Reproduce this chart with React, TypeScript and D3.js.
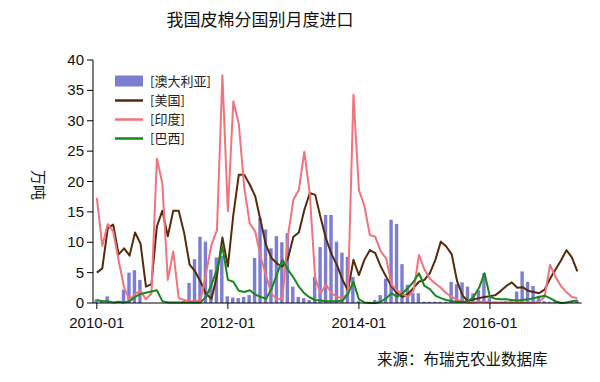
import React from 'react';
import * as d3 from 'd3';

// 月度进口量（万吨），2010-01 起
const australia = [
  0.6, 0.4, 1.1, 0, 0, 2.2, 5, 5.4, 3.8, 0, 0, 0,
  0, 0, 0, 0, 0.3, 3.3, 7.2, 10.9, 10.1, 5.5, 7.5, 7.8,
  1.1, 0.9, 0.8, 1, 1.3, 7.4, 14, 12.1, 9, 11, 10, 11.5,
  2.7, 1, 0.8, 0.5, 4.3, 9.2, 14.5, 14.5, 10.1, 8.3, 7.6, 4.3,
  0.3, 0, 0.2, 0.5, 1.3, 4, 13.7, 13, 6.4, 3, 1.6, 1.6,
  0.2, 0.2, 0.2, 0.2, 0.2, 3.5, 3.1, 3.4, 2.7, 1.6, 2.1, 4.9,
  0.8, 0.2, 0.2, 0.3, 0.5, 1.9, 5.2, 3.5, 2.8, 1.2, 0.3, 0.2,
  0.3, 0.2, 0.2, 0.3, 0.5,
];
const usa = [
  5, 5.7, 12.3, 12.9, 8, 9, 7.8, 11.6, 9.8, 2.7, 3.1, 12.6,
  15.2, 11, 15.2, 15.2, 11.5, 6.3, 5.2, 3.5, 1.5, 0.7, 4.5, 10.8,
  6, 14.5, 21.1, 21.1, 19.5, 17.6, 13.5, 9.5, 7.4, 6.5, 6, 7.3,
  10.9, 11.6, 15.3, 18.1, 17.8, 14, 10.5, 8, 6.2, 3.8, 2.1, 7.1,
  4.6, 7.1, 8.7, 8.2, 6, 4.3, 2.7, 1.6, 1, 1.5, 2.5, 3.5,
  3.8, 4.9, 7.1, 10.1, 9.3, 8, 3.5, 1.2, 0.3, 0.6, 0.8, 1,
  1.1, 1.3, 2, 2.8, 3.4, 2.5, 2.6, 2, 1.8, 1.6, 2.2, 4,
  5.5, 7, 8.7, 7.5, 5.2,
];
const india = [
  17.3, 9.4, 13, 11.8, 7, 2.5, 0.5, 1.5, 2, 0.6, 1.6, 23.8,
  19.7, 3.8, 8.5, 0.8, 0.5, 0.3, 0.3, 0.5, 4.9, 9.6, 12, 37.5,
  15.1, 33.2, 29.5, 19, 13.1, 11.8, 7.6, 4.5, 1.5, 0.6, 0.8, 11,
  17, 18.6, 24.9, 18, 4, 1.6, 3, 1.6, 1, 0.8, 1.6, 34.3,
  18.6, 16, 11.2, 10.9, 8.5, 7.3, 3, 2, 1.5, 1, 2, 7.9,
  5.5, 4, 3.2, 2.5, 1.6, 1, 0.5, 0.2, 0.1, 0.1, 0.2, 0.2,
  0.1, 0.1, 0.1, 0.1, 0.1, 0.1, 0.1, 0.1, 0.1, 0.2, 1, 6.3,
  4.3, 2.8, 1.8, 1, 0.8,
];
const brazil = [
  0.5, 0.3, 0.3, 0.1, 0.2, 0.1, 0.3, 1, 1.5, 1.7, 1.9, 2.1,
  0.3, 0.1, 0.1, 0.1, 0.1, 0.1, 0.1, 0.1, 1, 3, 5.5, 9.3,
  3.8, 3.5, 2, 1.8, 2.1, 1.4, 1, 0.7, 2.3, 4.8, 7.1, 5.5,
  4.2, 2.7, 1.6, 0.9, 0.5, 0.4, 0.3, 0.3, 0.3, 0.4, 1.5, 3.5,
  0.6, 0.1, 0, 0, 0.2, 0.8, 1.6, 1, 1.6, 2.5, 3.5, 4.9,
  2.8, 2.3, 1.2, 0.8, 0.5, 0.3, 0.2, 0.2, 0.3, 1, 2.5, 4.9,
  1, 0.7, 0.6, 0.6, 0.5, 0.4, 0.5, 0.6, 0.8, 1, 1.2, 0.8,
  0.3, 0, 0.1, 0.3, 0.4,
];

const startMonth = new Date(2010, 0, 1);
const months = d3.timeMonth.range(startMonth, d3.timeMonth.offset(startMonth, australia.length));
const xTickLabels = ['2010-01', '2012-01', '2014-01', '2016-01'];
const yTicks = [0, 5, 10, 15, 20, 25, 30, 35, 40];
const legendLabels = ['[澳大利亚]', '[美国]', '[印度]', '[巴西]'];
const title = '我国皮棉分国别月度进口';
const yLabel = '万吨';
const source = '来源：布瑞克农业数据库';

const COLORS = { bar: '#7d7dd2', usa: '#562a0c', india: '#f2737c', brazil: '#16891a' };
const CJK = '"Noto Sans CJK SC", "Noto Sans", sans-serif';
const LATIN = '"Liberation Sans", Arial, sans-serif';

export default function App() {
  const fmt = d3.timeFormat('%Y-%m');
  const idx = months.map((_, i) => i);
  const x = d3.scaleLinear().domain([-0.7, months.length - 0.2]).range([93, 581.7]);
  const y = d3.scaleLinear().domain([0, 40]).range([303, 60]);

  const line = (vals: number[]) =>
    d3.line<number>().x((_, i) => x(i)).y((v) => y(v)).curve(d3.curveLinear)(vals) || '';

  const series = [
    { vals: usa, color: COLORS.usa },
    { vals: india, color: COLORS.india },
    { vals: brazil, color: COLORS.brazil },
  ];

  const barW = 3.4;
  const legendY = [81.5, 100.5, 119.5, 138.5];
  const legendColors = [COLORS.bar, COLORS.usa, COLORS.india, COLORS.brazil];

  return (
    <svg width={600} height={382} style={{ position: 'absolute', left: 0, top: 0, background: '#fff' }}>
      <rect width={600} height={382} fill="#fff" />
      <text x={260} y={26} textAnchor="middle" fontFamily={CJK} fontSize={17} fill="#111">{title}</text>

      {/* bars */}
      {idx.map((i) =>
        australia[i] > 0 ? (
          <rect key={'b' + i} x={x(i) - barW / 2 - 0.6} y={y(australia[i])} width={barW}
            height={y(0) - y(australia[i])} fill={COLORS.bar} />
        ) : null
      )}

      {/* lines */}
      {series.map((s, k) => (
        <path key={k} d={line(s.vals)} fill="none" stroke={s.color} strokeWidth={2} strokeLinejoin="round" />
      ))}

      {/* y axis */}
      <line x1={93} x2={93} y1={60} y2={303} stroke="#000" strokeWidth={1} />
      {yTicks.map((t) => (
        <g key={'y' + t}>
          <line x1={87} x2={93} y1={y(t)} y2={y(t)} stroke="#000" />
          <text x={84} y={y(t) + 5} textAnchor="end" fontFamily={LATIN} fontSize={15} fill="#111">{t}</text>
        </g>
      ))}

      {/* x axis */}
      <line x1={93} x2={581.7} y1={303} y2={303} stroke="#000" strokeWidth={1} />
      {xTickLabels.map((lab) => {
        const i = months.findIndex((d) => fmt(d) === lab);
        return (
          <g key={lab}>
            <line x1={x(i)} x2={x(i)} y1={303} y2={309} stroke="#000" />
            <text x={x(i)} y={328} textAnchor="middle" fontFamily={LATIN} fontSize={15} fill="#111">{lab}</text>
          </g>
        );
      })}

      <text transform="translate(33,185) rotate(90)" textAnchor="middle" fontFamily={CJK} fontSize={15} fill="#111">{yLabel}</text>

      {/* legend */}
      {legendLabels.map((lab, k) => (
        <g key={lab}>
          {k === 0 ? (
            <rect x={115} y={legendY[k] - 6} width={28} height={11} fill={legendColors[k]} />
          ) : (
            <line x1={115} x2={143} y1={legendY[k]} y2={legendY[k]} stroke={legendColors[k]} strokeWidth={2.5} />
          )}
          <text x={150} y={legendY[k] + 4.5} fontFamily={CJK} fontSize={13} fill="#222">{lab}</text>
        </g>
      ))}

      <text x={377} y={365} fontFamily={CJK} fontSize={15.5} fill="#111">{source}</text>
    </svg>
  );
}
